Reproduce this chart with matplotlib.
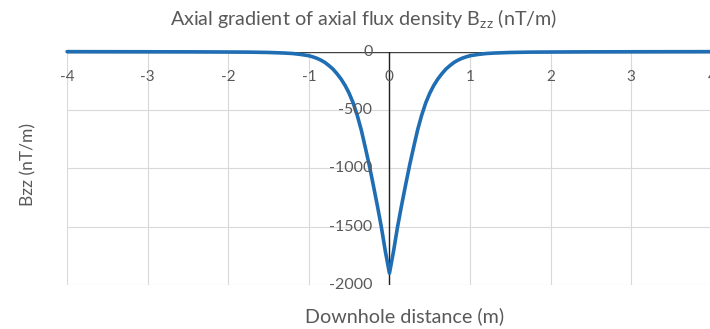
import matplotlib
matplotlib.use("Agg")
import matplotlib.pyplot as plt

# Downhole distance (m) and axial gradient Bzz (nT/m)
distance = [-4.0, -3.0, -2.5, -2.0, -1.75, -1.5, -1.3, -1.2, -1.1, -1.0, -0.95,
            -0.9, -0.85, -0.8, -0.75, -0.7, -0.65, -0.6, -0.55, -0.5, -0.45,
            -0.4, -0.35, -0.3, -0.25, -0.2, -0.15, -0.1, -0.05, 0.0,
            0.05, 0.1, 0.15, 0.2, 0.25, 0.3, 0.35, 0.4, 0.45, 0.5, 0.55, 0.6,
            0.65, 0.7, 0.75, 0.8, 0.85, 0.9, 0.95, 1.0, 1.1, 1.2, 1.3, 1.5,
            1.75, 2.0, 2.5, 3.0, 4.0]
bzz = [0, -1, -1.5, -3, -4, -7, -12, -16, -24, -35, -45,
       -57, -73, -93, -120, -150, -190, -235, -290, -357, -440,
       -545, -670, -820, -975, -1145, -1320, -1505, -1715, -1900,
       -1715, -1505, -1320, -1145, -975, -820, -670, -545, -440, -357, -290,
       -235, -190, -150, -120, -93, -73, -57, -45, -35, -24, -16, -12, -7,
       -4, -3, -1.5, -1, 0]

x_ticks = [-4, -3, -2, -1, 0, 1, 2, 3, 4]
y_ticks = [0, -500, -1000, -1500, -2000]

title = "Axial gradient of axial flux density B$_{\\mathregular{zz}}$ (nT/m)"
x_label = "Downhole distance (m)"
y_label = "Bzz (nT/m)"

plt.rcParams["font.family"] = ["Lato", "DejaVu Sans"]
plt.rcParams["mathtext.default"] = "regular"
text_grey = "#595959"
grid_grey = "#d9d9d9"
line_blue = "#1f6eb4"

fig = plt.figure(figsize=(7.10, 3.29), dpi=100)
ax = fig.add_axes([0.0945, 0.134, 0.908, 0.709])
ax.set_xlim(-4, 4)
ax.set_ylim(-2000, 0)

for spine in ax.spines.values():
    spine.set_visible(False)
ax.set_xticks([])
ax.set_yticks([])

# gridlines
for xv in x_ticks:
    ax.axvline(xv, color=grid_grey, lw=0.8, zorder=1)
for yv in y_ticks:
    ax.axhline(yv, color=grid_grey, lw=0.8, zorder=1)

# axis lines crossing at the origin
ax.axhline(0, color="#404040", lw=1.0, zorder=2)
ax.axvline(0, color="#202020", lw=1.0, zorder=2)

ax.plot(distance, bzz, color=line_blue, lw=2.6, zorder=3,
        solid_joinstyle="round", solid_capstyle="round", clip_on=False)

# tick labels placed beside the axis lines
for xv in x_ticks:
    ax.annotate(f"{xv:g}", xy=(xv, 0), xytext=(0, -25), textcoords="offset pixels",
                ha="center", va="center", fontsize=11, color=text_grey,
                annotation_clip=False)
for yv in y_ticks:
    ax.annotate(f"{yv:g}", xy=(0, yv), xytext=(-17, 0), textcoords="offset pixels",
                ha="right", va="center", fontsize=11.5, color=text_grey,
                annotation_clip=False)

fig.text(363.5 / 710, 1 - 18 / 329, title, ha="center", va="center",
         fontsize=14.2, color=text_grey)
fig.text(405 / 710, 1 - 316 / 329, x_label, ha="center", va="center",
         fontsize=14.2, color=text_grey)
fig.text(28 / 710, 1 - 165 / 329, y_label, ha="center", va="center",
         rotation=90, fontsize=12.5, color=text_grey)

fig.savefig("out.png", dpi=100)
